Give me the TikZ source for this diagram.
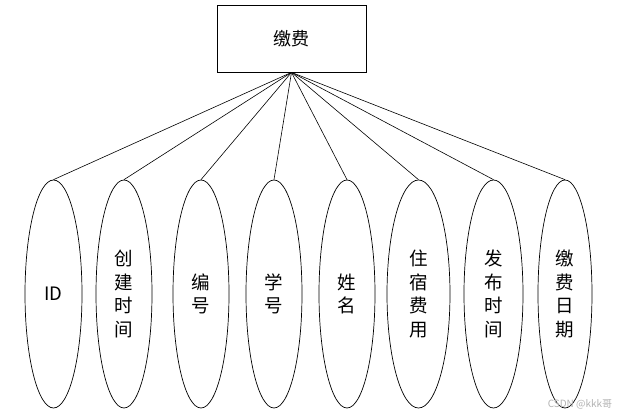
\documentclass[tikz,border=0pt]{standalone}
\usepackage{fontspec}
\setmainfont{Noto Sans CJK SC}
\usetikzlibrary{shapes.geometric}
\begin{document}
\begin{tikzpicture}[x=1pt,y=-1pt,
  entity/.style={draw,line width=0.8pt,minimum width=149pt,minimum height=67pt,inner sep=0pt,font=\fontsize{18}{22}\selectfont},
  attr/.style={ellipse,draw,line width=0.7pt,minimum height=228pt,inner sep=0pt,align=center,font=\fontsize{18.5}{23.5}\selectfont},
  link/.style={line width=0.6pt}]
\useasboundingbox (0,0) rectangle (622,414);
\node[entity] (top) at (291.5,38.5) {\raisebox{-3pt}{缴费}};
\node[attr,minimum width=57pt] (e1) at (53.5,294) {ID};
\node[attr,minimum width=56pt] (e2) at (124,294) {创\\建\\时\\间};
\node[attr,minimum width=56pt] (e3) at (201,294) {编\\号};
\node[attr,minimum width=56pt] (e4) at (274,294) {学\\号};
\node[attr,minimum width=56pt] (e5) at (347,294) {姓\\名};
\node[attr,minimum width=63pt] (e6) at (418.5,294) {住\\宿\\费\\用};
\node[attr,minimum width=59pt] (e7) at (493.5,294) {发\\布\\时\\间};
\node[attr,minimum width=54pt] (e8) at (565,294) {缴\\费\\日\\期};
\foreach \i in {1,...,8} \draw[link] (top.south) -- (e\i.north);
\node[text=black!30,font=\fontsize{10}{12}\selectfont,inner sep=0pt] (wm) at (580,404) {CSDN @kkk哥};
\end{tikzpicture}
\end{document}
